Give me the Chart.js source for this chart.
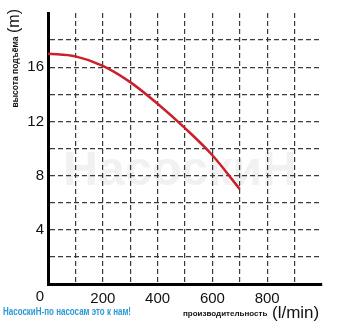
<!DOCTYPE html>
<html>
<head>
<meta charset="utf-8">
<script src="https://cdn.jsdelivr.net/npm/chart.js@4.4.1/dist/chart.umd.min.js"></script>
<style>
  html, body { margin: 0; padding: 0; background: #fff; }
  canvas { display: block; }
</style>
</head>
<body>
<canvas id="pumpChart" width="344" height="325"></canvas>
<script>
// ==================== PUMP CURVE DATA ====================
const flowLpm = [0, 100, 200, 300, 400, 500, 600, 700];
const headM = [17.0, 16.8, 16.1, 14.9, 13.3, 11.5, 9.5, 7.0];
const xTickLabels = [0, 200, 400, 600, 800];
const yTickLabels = [4, 8, 12, 16];

(function() {
    "use strict";

    const FONT = "'Liberation Sans', Arial, sans-serif";

    // -------------------- texts around the plot --------------------
    const decorPlugin = {
        id: 'decor',
        beforeDraw(chart) {
            const { ctx } = chart;
            // faint shop watermark behind the grid
            ctx.save();
            ctx.fillStyle = '#f1f1f1';
            ctx.font = 'bold 48px ' + FONT;
            ctx.textBaseline = 'alphabetic';
            const wm = 'НасоскиН';
            const w = ctx.measureText(wm).width;
            ctx.translate(63, 185);
            ctx.scale(234 / w, 1);
            ctx.fillText(wm, 0, 0);
            ctx.restore();
        },
        afterDraw(chart) {
            const { ctx } = chart;
            const xs = chart.scales.x;
            ctx.save();
            ctx.fillStyle = '#111';

            // corner zero sits left of the axis
            ctx.font = '15px ' + FONT;
            ctx.textAlign = 'center';
            ctx.textBaseline = 'middle';
            ctx.fillText(String(xTickLabels[0]), xs.getPixelForValue(0) - 8, 297);

            // y axis title, rotated
            ctx.save();
            ctx.translate(15, 0);
            ctx.rotate(-Math.PI / 2);
            ctx.textAlign = 'center';
            ctx.textBaseline = 'middle';
            ctx.font = '16px ' + FONT;
            ctx.fillText('(m)', -21, 0);
            ctx.font = 'bold 8.5px ' + FONT;
            ctx.fillText('высота подъёма', -72, 1);
            ctx.restore();

            // x axis title
            ctx.textAlign = 'left';
            ctx.textBaseline = 'middle';
            ctx.font = 'bold 8px ' + FONT;
            ctx.fillText('производительность', 183, 314);
            ctx.font = '17px ' + FONT;
            ctx.fillText('(l/min)', 272, 313);

            // blue footer slogan, squeezed to a condensed look
            ctx.fillStyle = '#2a9ad6';
            ctx.font = 'bold 10px ' + FONT;
            const slogan = 'НасоскиН-по насосам это к нам!';
            const sw = ctx.measureText(slogan).width;
            ctx.translate(3, 312);
            ctx.scale(128 / sw, 1);
            ctx.fillText(slogan, 0, 0);
            ctx.restore();
        }
    };

    // ==================== CHART ====================
    const dashColor = '#3a3a3a';
    new Chart(document.getElementById('pumpChart'), {
        type: 'line',
        data: {
            datasets: [{
                data: flowLpm.map((q, i) => ({ x: q, y: headM[i] })),
                borderColor: '#cc1f2b',
                borderWidth: 2.5,
                pointRadius: 0,
                tension: 0.4,
                cubicInterpolationMode: 'monotone',
                fill: false
            }]
        },
        options: {
            responsive: false,
            animation: false,
            devicePixelRatio: 1,
            layout: { padding: { top: 8, right: 22, left: 0, bottom: 0 } },
            plugins: { legend: { display: false }, tooltip: { enabled: false } },
            scales: {
                x: {
                    type: 'linear', min: 0, max: 1000,
                    afterFit: (s) => { s.height = 41; },
                    ticks: {
                        stepSize: 100, autoSkip: false, maxRotation: 0, padding: 6,
                        color: '#111', font: { size: 15, family: FONT },
                        callback: (v) => (v !== 0 && xTickLabels.includes(v)) ? String(v) : ''
                    },
                    grid: {
                        drawTicks: false, lineWidth: 1.2,
                        color: (c) => (c.tick && (c.tick.value === 0 || c.tick.value === 1000)) ? 'rgba(0,0,0,0)' : dashColor
                    },
                    border: { display: true, color: '#000', width: 3, dash: [5, 3] }
                },
                y: {
                    type: 'linear', min: 0, max: 20,
                    afterFit: (s) => { s.width = 48; },
                    ticks: {
                        stepSize: 2, autoSkip: false, padding: 4,
                        color: '#111', font: { size: 15, family: FONT },
                        callback: (v) => yTickLabels.includes(v) ? String(v) : ''
                    },
                    grid: {
                        drawTicks: false, lineWidth: 1.2,
                        color: (c) => (c.tick && (c.tick.value === 0 || c.tick.value === 20)) ? 'rgba(0,0,0,0)' : dashColor
                    },
                    border: { display: true, color: '#000', width: 3, dash: [5, 3] }
                }
            }
        },
        plugins: [decorPlugin]
    });
})();
</script>
</body>
</html>
